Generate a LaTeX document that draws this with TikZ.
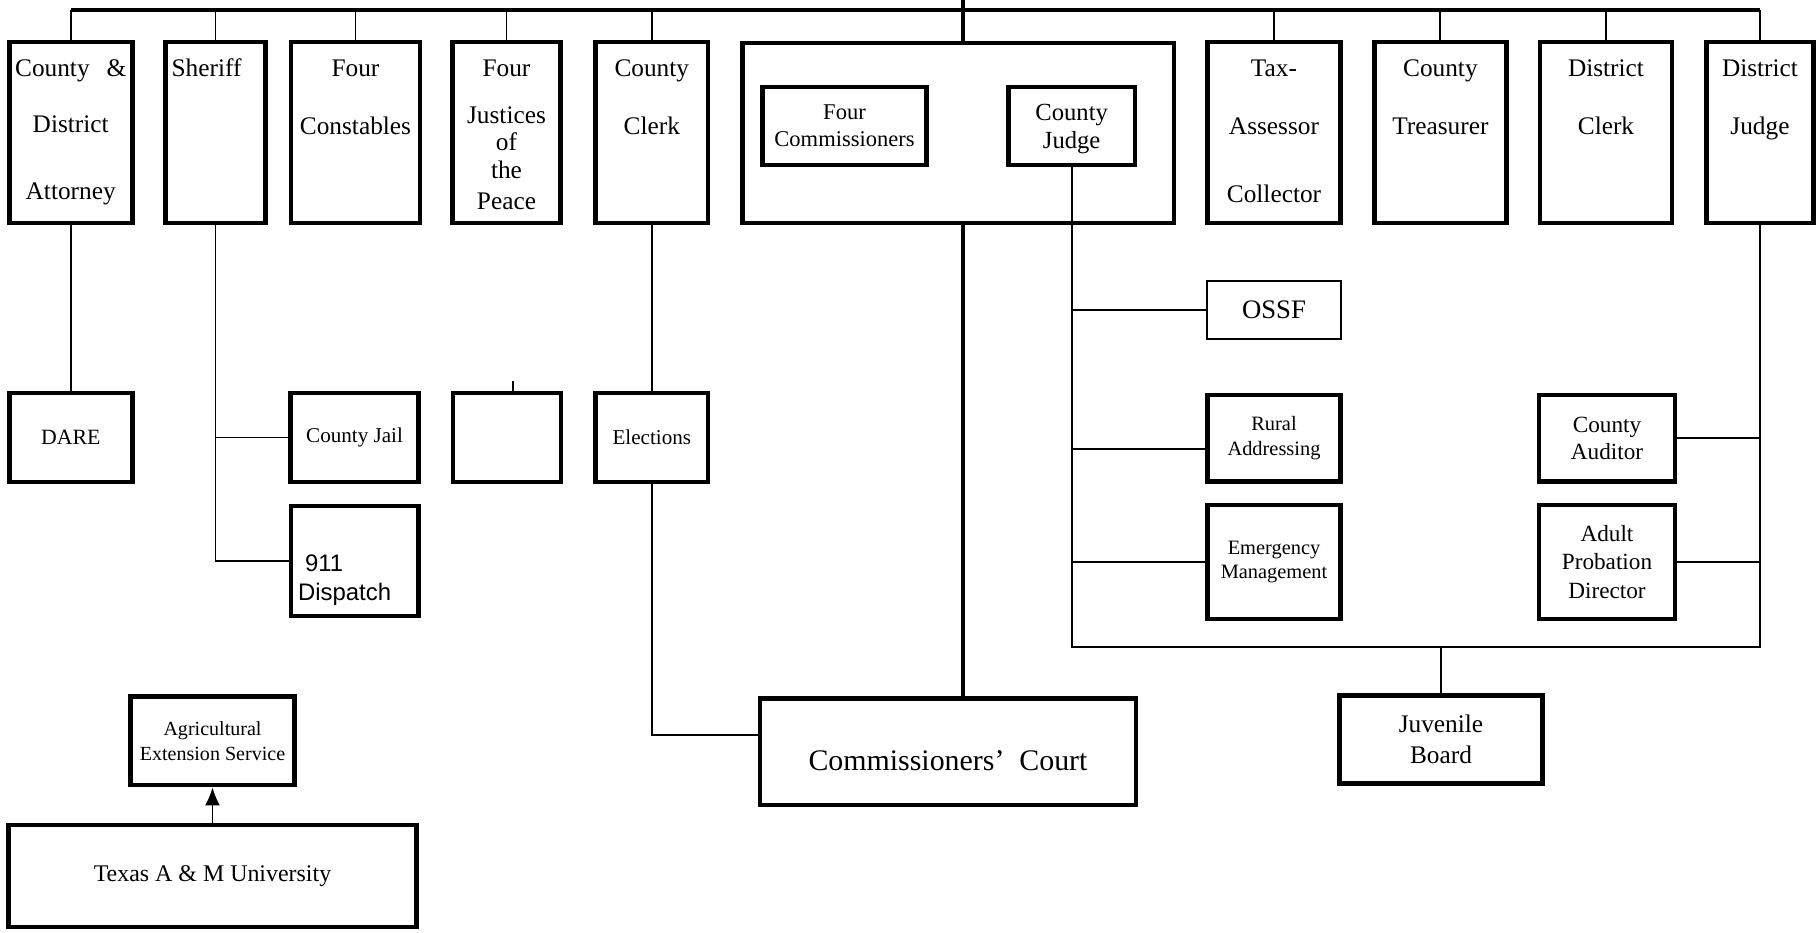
\documentclass[tikz,border=0pt]{standalone}
\usepackage{fontspec}
\setmainfont{Liberation Serif}
\newfontfamily\dispfont{Liberation Sans}
\usetikzlibrary{arrows.meta}
\newcommand{\fs}[2]{\fontsize{#1}{#2}\selectfont}

\begin{document}
\begin{tikzpicture}[
       x=0.01cm, y=-0.01cm,
       box/.style={
         draw,
         line width=1.35pt,
         inner sep=0pt,
         align=center
       },
       office/.style={
         box,
         text height=0.35cm,
         text depth=1.46cm,
         font=\fs{7.2}{8.6}
       },
       link/.style={line width=0.55pt},
       trunk/.style={line width=1.25pt}
     ]
       \useasboundingbox (0,0) rectangle (1817,932);

       \node (att) at (70.7,132.5) [office, text width=1.228cm]{County~~\&\\[7.3pt]District\\[10.4pt]Attorney};
       \node (sher) at (215.5,132.5) [office, text width=0.877cm, inner xsep=0.06cm, align=left]{Sheriff};
       \node (const) at (355.5,132.5) [office, text width=1.29cm]{Four\\[7.8pt]Constables};
       \node (jus) at (506.5,132.5) [office, text width=1.075cm, font=\fs{7.2}{7.8}]{Four\\[5.4pt]Justices\\of\\the\\[1pt]Peace};
       \node (cclerk) at (651.8,132.5) [office, text width=1.124cm]{County\\[7.8pt]Clerk};
       \node (tax) at (1274,132.5) [office, text width=1.33cm]{Tax-\\[7.8pt]Assessor\\[10.7pt]Collector};
       \node (treas) at (1440.4,132.5) [office, text width=1.32cm]{County\\[7.8pt]Treasurer};
       \node (dclerk) at (1606,132.5) [office, text width=1.32cm]{District\\[7.8pt]Clerk};
       \node (djudge) at (1760,132.5) [office, text width=1.065cm]{District\\[7.8pt]Judge};

       \node (cc) at (958.3,133) [box, minimum width=4.31cm, minimum height=1.8cm]{};
       \node (comm) at (844.5,126) [box, text width=1.644cm, text height=0.32cm, text depth=0.46cm, font=\fs{6.4}{7.9}]{Four\\Commissioners};
       \node (cjudge) at (1071.7,126) [box, text width=1.267cm, text height=0.33cm, text depth=0.45cm, font=\fs{7}{8}]{County\\Judge};

       \node (dare) at (70.7,437.5) [box, minimum width=1.228cm, minimum height=0.89cm, font=\fs{6.2}{7}]{DARE};
       \node (jail) at (354.6,437.5) [box, minimum width=1.274cm, minimum height=0.89cm, font=\fs{6}{7}]{County Jail};
       \node (disp) at (354.6,561) [box, text width=1.13cm, inner xsep=0.07cm, align=left, text height=0.657cm, text depth=0.443cm, font=\dispfont\fs{6.8}{8.3}]{\hspace*{2pt}911\\Dispatch};
       \node (peace) at (507,437.5) [box, minimum width=1.08cm, minimum height=0.89cm]{};
       \node (elect) at (651.8,437.5) [box, minimum width=1.124cm, minimum height=0.89cm, font=\fs{6}{7}]{Elections};

       \node (ossf) at (1274,310) [box, line width=0.6pt, minimum width=1.332cm, minimum height=0.586cm, font=\fs{7.6}{9}]{OSSF};
       \node (rural) at (1274,438.3) [box, minimum width=1.332cm, minimum height=0.867cm, font=\fs{5.8}{7.1}]{Rural\\Addressing};
       \node (emerg) at (1274,562) [box, minimum width=1.332cm, minimum height=1.14cm, font=\fs{5.8}{7.1}]{Emergency\\Management};
       \node (audit) at (1607,438.3) [box, minimum width=1.36cm, minimum height=0.867cm, font=\fs{6.6}{7.7}]{County\\Auditor};
       \node (probat) at (1607,562) [box, minimum width=1.36cm, minimum height=1.14cm, font=\fs{6.6}{8}]{Adult\\Probation\\Director};
       \node (juv) at (1441,739.3) [box, minimum width=2.028cm, minimum height=0.88cm, font=\fs{7.2}{8.9}]{Juvenile\\Board};
       \node (court) at (948,751.5) [box, text width=3.76cm, text height=0.727cm, text depth=0.34cm, font=\fs{8.5}{10}]{Commissioners'\enspace Court};

       \node (ag) at (212.5,740.8) [box, minimum width=1.633cm, minimum height=0.883cm, font=\fs{5.7}{7.1}]{Agricultural\\Extension Service};
       \node (tamu) at (212.5,876) [box, minimum width=4.08cm, minimum height=1.02cm, font=\fs{6.8}{8}]{Texas A \& M University};

       \coordinate (bus) at (0,10);
       \coordinate (spine) at (963,0);
       \coordinate (rail) at (0,646.7);
       \coordinate (stub) at (513.3,381);
       \coordinate (ra) at ([yshift=-0.11cm]rural.west);

       \draw[trunk] (att.north |- bus) -- (djudge.north |- bus);
       \foreach \n in {att,sher,const,jus,cclerk,tax,treas,dclerk,djudge}
         \draw[link] (\n.north) -- (\n.north |- bus);
       \draw[trunk] (spine) -- (spine |- cc.north);
       \draw[trunk] (spine |- cc.south) -- (spine |- court.north);

       \draw[link] (att.south) -- (dare.north);
       \draw[link] (sher.south) |- (disp.west);
       \draw[link] (jail.west -| sher.south) -- (jail.west);
       \draw[link] (stub) -- (stub |- peace.north);
       \draw[link] (cclerk.south) -- (elect.north);
       \draw[link] (elect.south) |- ([yshift=0.165cm]court.west);

       \draw[link] (cjudge.south) |- (rail -| djudge.south) -- (djudge.south);
       \draw[link] (ossf.west) -- (ossf.west -| cjudge.south);
       \draw[link] (ra) -- (ra -| cjudge.south);
       \draw[link] (emerg.west) -- (emerg.west -| cjudge.south);
       \draw[link] (audit.east) -- (audit.east -| djudge.south);
       \draw[link] (probat.east) -- (probat.east -| djudge.south);
       \draw[link] (juv.north) -- (juv.north |- rail);
       \draw[link, -{Latex[length=0.18cm, width=0.15cm]}] (tamu.north) -- (ag.south);

\end{tikzpicture}
\end{document}
